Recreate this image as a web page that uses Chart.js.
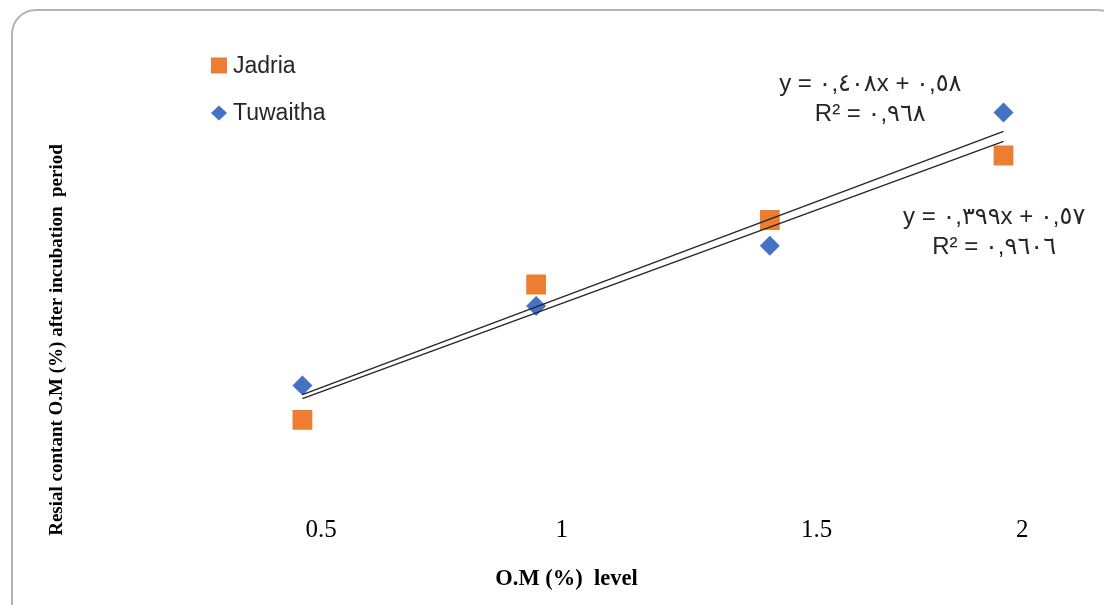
<!DOCTYPE html>
<html>
<head>
<meta charset="utf-8">
<title>O.M level</title>
<script src="https://cdn.jsdelivr.net/npm/chart.js"></script>
<style>
    html, body { margin: 0; padding: 0; background: #fff; overflow: hidden; }
    #frame { position: absolute; left: 11px; top: 9px; width: 1108px; height: 640px;
             border: 2px solid #b4b4b4; border-radius: 25px; }
    #chart { position: absolute; left: 0; top: 0; }
</style>
</head>
<body>
<div id="frame"></div>
<canvas id="chart" width="1104" height="605"></canvas>

<script>
    // categories (plotted as 1..4, labelled with the O.M level)
    const levels = [1, 2, 3, 4];
    const levelLabels = ['0.5', '1', '1.5', '2'];

    // residual O.M content after incubation
    const seriesNames = ['Jadria', 'Tuwaitha'];
    const jadria = [0.87, 1.50, 1.80, 2.10];
    const tuwaitha = [1.03, 1.40, 1.68, 2.30];

    // linear trendlines as printed on the chart
    const trendSlope = [0.399, 0.408];
    const trendIntercept = [0.57, 0.58];
    const trendText = [
        ['y = ٠,٣٩٩x + ٠,٥٧', 'R² = ٠,٩٦٠٦'],
        ['y = ٠,٤٠٨x + ٠,٥٨', 'R² = ٠,٩٦٨']
    ];

    const ORANGE = '#ED7D31';
    const BLUE = '#4472C4';

    const toPoints = vals => levels.map((x, i) => ({x: x, y: vals[i]}));
    const trendPoints = k => [levels[0], levels[levels.length - 1]]
        .map(x => ({x: x, y: trendSlope[k] * x + trendIntercept[k]}));

    // legend drawn inside the plot, top left
    const sideLegend = {
        id: 'sideLegend',
        afterDraw(chart, args, opts) {
            const ctx = chart.ctx;
            ctx.save();
            ctx.font = opts.font;
            ctx.textBaseline = 'middle';
            chart.data.datasets.filter(d => d.inLegend).forEach((d, i) => {
                const cx = opts.x, cy = opts.y + i * opts.gap;
                ctx.fillStyle = d.backgroundColor;
                ctx.beginPath();
                if (d.pointStyle === 'rect') {
                    ctx.rect(cx - 8, cy - 8, 16, 16);
                } else {
                    ctx.moveTo(cx - 8, cy);
                    ctx.lineTo(cx, cy - 7.5);
                    ctx.lineTo(cx + 8, cy);
                    ctx.lineTo(cx, cy + 7.5);
                    ctx.closePath();
                }
                ctx.fill();
                ctx.fillStyle = opts.color;
                ctx.fillText(d.label, cx + 14, cy + 1);
            });
            ctx.restore();
        }
    };

    // trendline equations + free y axis title
    const labelsPlugin = {
        id: 'labelsPlugin',
        afterDraw(chart, args, opts) {
            const ctx = chart.ctx;
            const xs = chart.scales.x, ys = chart.scales.y;
            ctx.save();
            ctx.fillStyle = opts.color;
            ctx.font = opts.font;
            ctx.textAlign = 'center';
            ctx.textBaseline = 'middle';
            trendText.forEach((lines, k) => {
                const px = xs.getPixelForValue(opts.anchors[k].x);
                const py = ys.getPixelForValue(opts.anchors[k].y);
                lines.forEach((t, j) => ctx.fillText(t, px, py + j * opts.lineGap));
            });
            ctx.translate(opts.yTitle.x, opts.yTitle.y);
            ctx.rotate(-Math.PI / 2);
            ctx.fillStyle = '#000';
            ctx.font = opts.yTitle.font;
            ctx.fillText(opts.yTitle.text, 0, 0);
            ctx.restore();
        }
    };

    const chart = new Chart(document.getElementById('chart'), {
        type: 'scatter',
        data: {
            datasets: [
                {
                    type: 'line', label: 'trend Jadria', data: trendPoints(0),
                    borderColor: '#262626', borderWidth: 1.4, pointRadius: 0, order: 0
                },
                {
                    type: 'line', label: 'trend Tuwaitha', data: trendPoints(1),
                    borderColor: '#262626', borderWidth: 1.4, pointRadius: 0, order: 0
                },
                {
                    label: seriesNames[0], data: toPoints(jadria), inLegend: true,
                    pointStyle: 'rect', pointRadius: 14, borderWidth: 0,
                    backgroundColor: ORANGE, borderColor: ORANGE, order: 1
                },
                {
                    label: seriesNames[1], data: toPoints(tuwaitha), inLegend: true,
                    pointStyle: 'rectRot', pointRadius: 10, borderWidth: 0,
                    backgroundColor: BLUE, borderColor: BLUE, order: 1
                }
            ]
        },
        options: {
            responsive: false,
            animation: false,
            events: [],
            layout: {autoPadding: false, padding: {left: 36, right: 7, top: 48, bottom: 12}},
            scales: {
                x: {
                    type: 'linear', min: -0.14, max: 4.4,
                    grid: {display: false, drawTicks: false},
                    border: {display: false},
                    afterBuildTicks: s => {
                        s.ticks = [1.08, 2.11, 3.2, 4.08].map(v => ({value: v}));
                    },
                    afterFit: s => { s.height = 93.5; },
                    ticks: {
                        padding: 16, color: '#000', autoSkip: false, maxRotation: 0,
                        font: {family: 'Liberation Serif', size: 25},
                        callback: (v, i) => levelLabels[i]
                    },
                    title: {
                        display: true, text: 'O.M (%)  level', color: '#000', padding: 0,
                        font: {family: 'Liberation Serif', size: 22.5, weight: 'bold'}
                    }
                },
                y: {
                    display: false, min: 0.5, max: 2.6
                }
            },
            plugins: {
                legend: {display: false},
                tooltip: {enabled: false},
                sideLegend: {x: 219, y: 65.5, gap: 47.5, font: '23px "Liberation Sans"', color: '#262626'},
                labelsPlugin: {
                    font: '24px "Liberation Sans", "DejaVu Sans"', color: '#262626', lineGap: 30,
                    anchors: [{x: 3.96, y: 1.814}, {x: 3.43, y: 2.433}],
                    yTitle: {
                        x: 57, y: 340, text: 'Resial contant O.M (%) after incubation  period',
                        font: 'bold 19px "Liberation Serif"'
                    }
                }
            }
        },
        plugins: [sideLegend, labelsPlugin]
    });
</script>
</body>
</html>
